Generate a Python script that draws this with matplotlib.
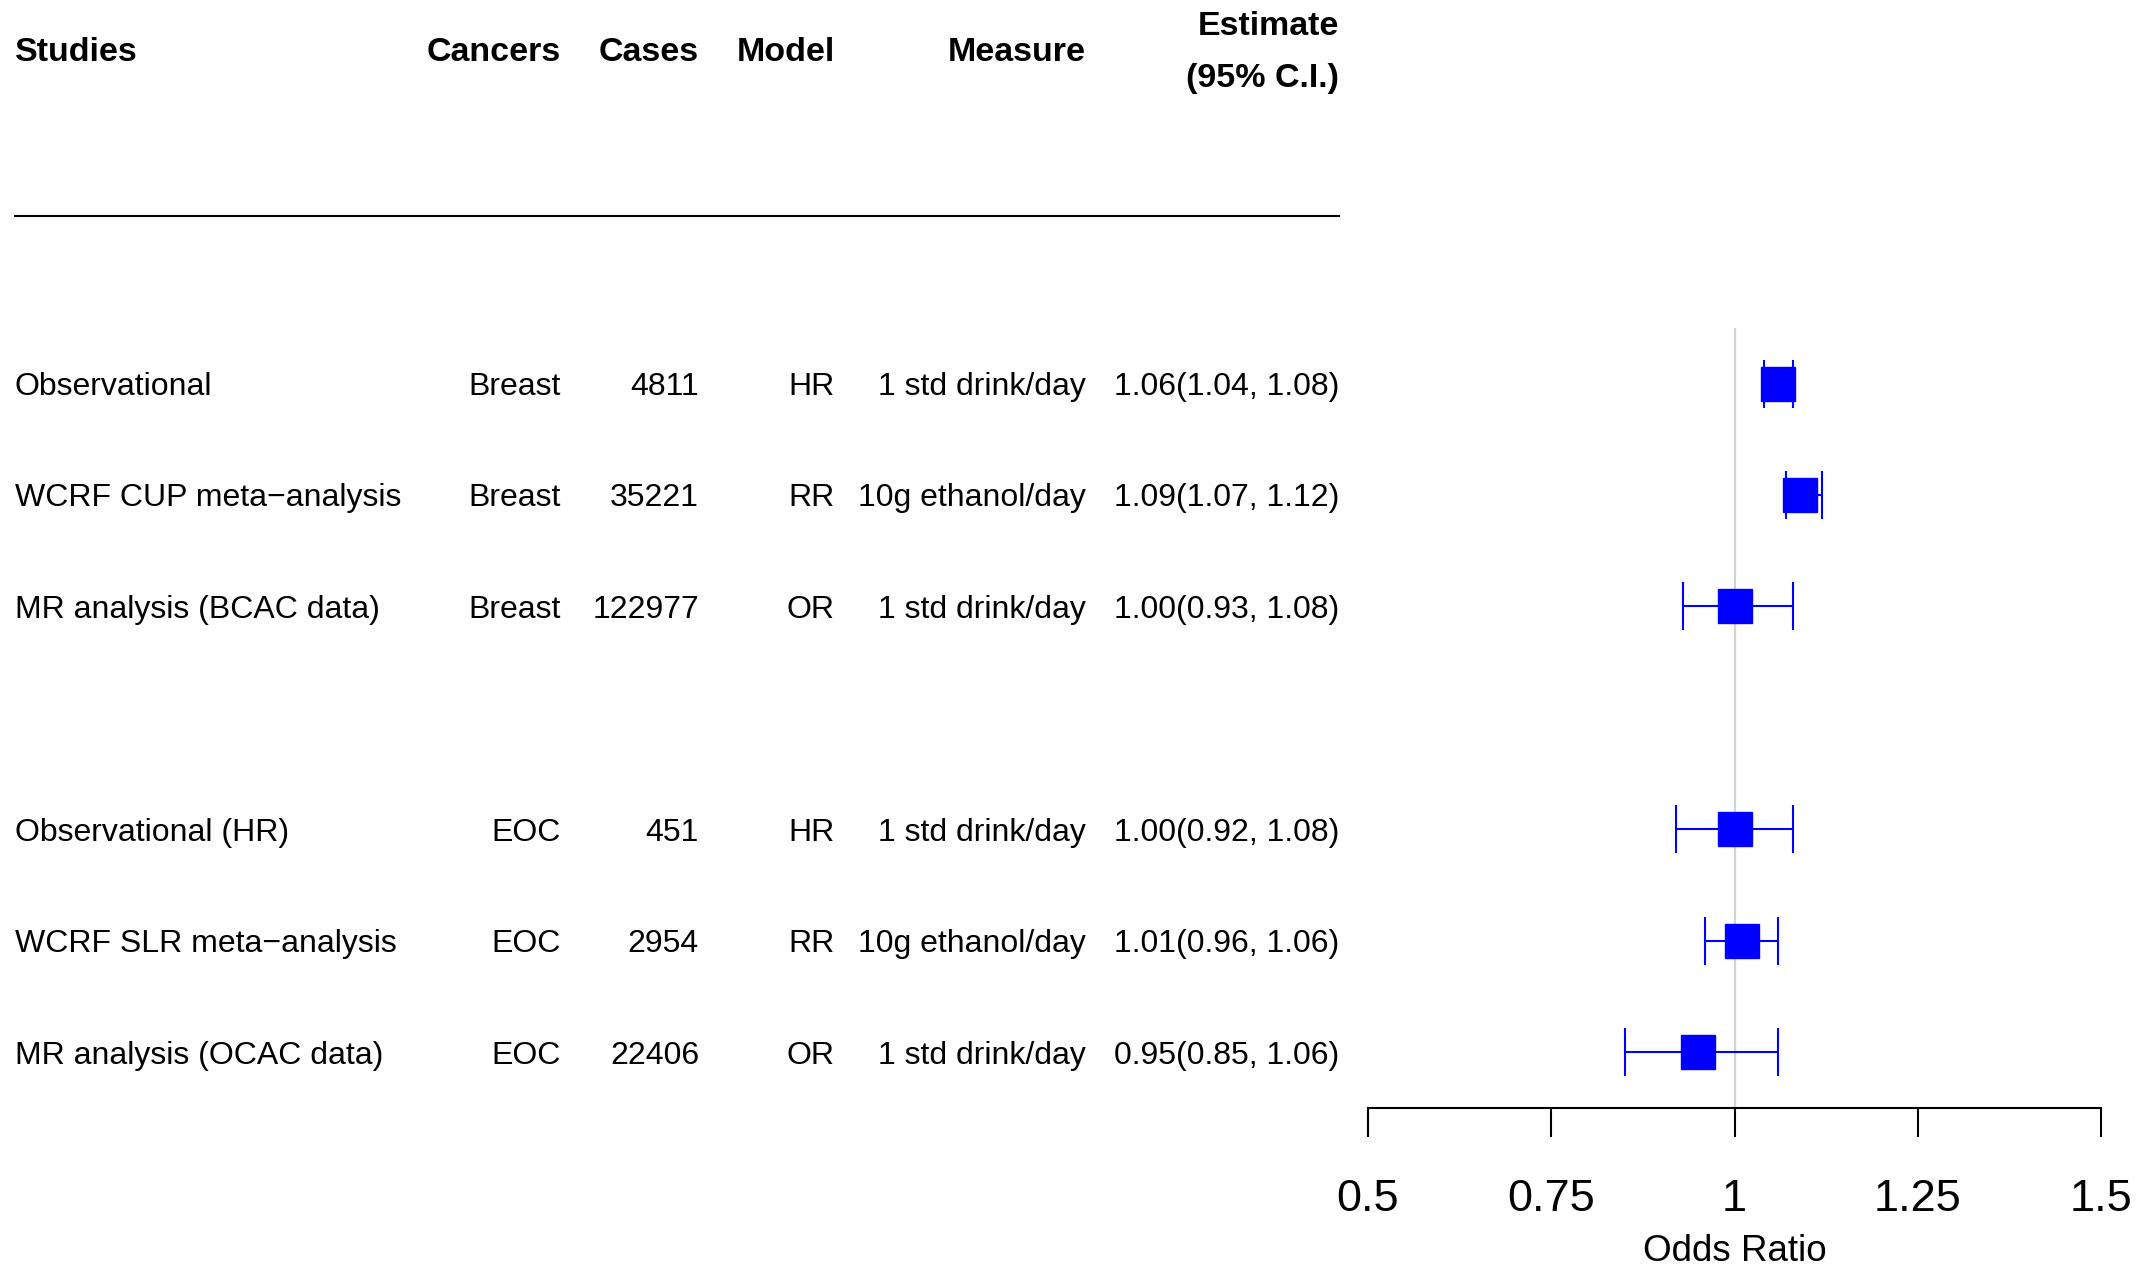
import matplotlib
matplotlib.use("Agg")
import matplotlib.pyplot as plt
import matplotlib.transforms as mtransforms

plt.rcParams['font.family'] = ['Liberation Sans', 'DejaVu Sans']

# table data
studies = ["Observational", "WCRF CUP meta\u2212analysis", "MR analysis (BCAC data)",
           "Observational (HR)", "WCRF SLR meta\u2212analysis", "MR analysis (OCAC data)"]
cancers = ["Breast", "Breast", "Breast", "EOC", "EOC", "EOC"]
cases = ["4811", "35221", "122977", "451", "2954", "22406"]
models = ["HR", "RR", "OR", "HR", "RR", "OR"]
measures = ["1 std drink/day", "10g ethanol/day", "1 std drink/day",
            "1 std drink/day", "10g ethanol/day", "1 std drink/day"]
est = [1.06, 1.09, 1.00, 1.00, 1.01, 0.95]
lo = [1.04, 1.07, 0.93, 0.92, 0.96, 0.85]
hi = [1.08, 1.12, 1.08, 1.08, 1.06, 1.06]
rows = [1, 2, 3, 5, 6, 7]  # row slots, a blank gap between cancers

xticks = [0.5, 0.75, 1, 1.25, 1.5]
xticklabels = ["0.5", "0.75", "1", "1.25", "1.5"]

W, H = 2149, 1266
fig = plt.figure(figsize=(W / 100, H / 100), dpi=100)

# forest panel: bottom spine is the odds ratio axis
ax = fig.add_axes([1368 / W, 1 - 1108 / H, 733 / W, 1108 / H])
ax.set_xlim(0.5, 1.5)
ax.set_ylim(7.5, -2.442)
ax.patch.set_visible(False)
for s in ["top", "right", "left"]:
    ax.spines[s].set_visible(False)
ax.spines["bottom"].set_bounds(0.5, 1.5)
ax.spines["bottom"].set_linewidth(1.5)
ax.set_yticks([])
ax.set_xticks(xticks)
ax.set_xticklabels(xticklabels)
ax.tick_params(axis="x", direction="out", length=21, width=1.5, labelsize=32.5, pad=30)
ax.set_xlabel("Odds Ratio", fontsize=26.5, labelpad=10.5)

ax.vlines(1, 0.5, 7.5, color="#d3d3d3", lw=1.6, zorder=1)

xerr = [[e - l for e, l in zip(est, lo)], [h - e for e, h in zip(est, hi)]]
ax.errorbar(est, rows, xerr=xerr, fmt="none", ecolor="blue", elinewidth=1.5,
            capsize=17, capthick=1.5, zorder=2)
ax.plot(est, rows, "s", color="blue", markersize=25, zorder=3)

# table text: x in figure fraction, y in row units
tr = mtransforms.blended_transform_factory(fig.transFigure, ax.transData)
body = 23
head = 24.5
dy = 0.03  # nudge text down so caps sit centred on the row
cols = [(15, "left", studies), (560.5, "right", cancers), (699, "right", cases),
        (834.6, "right", models), (1085.4, "right", measures)]
for x, ha, vals in cols:
    for r, v in zip(rows, vals):
        ax.text(x / W, r + dy, v, transform=tr, ha=ha, va="center", fontsize=body, clip_on=False)
for r, e, l, h in zip(rows, est, lo, hi):
    ax.text(1339 / W, r + dy, f"{e:.2f}({l:.2f}, {h:.2f})", transform=tr, ha="right",
            va="center", fontsize=body, clip_on=False)

headers = [(15, "left", "Studies"), (560.5, "right", "Cancers"), (699, "right", "Cases"),
           (834.6, "right", "Model"), (1085.4, "right", "Measure")]
for x, ha, t in headers:
    ax.text(x / W, -2.0 + dy, t, transform=tr, ha=ha, va="center", fontsize=head,
            fontweight="bold", clip_on=False)
ax.text(1339 / W, -2.2, "Estimate", transform=tr, ha="right", va="center",
        fontsize=head, fontweight="bold", clip_on=False)
ax.text(1339 / W, -1.735, "(95% C.I.)", transform=tr, ha="right", va="center",
        fontsize=head, fontweight="bold", clip_on=False)

ax.plot([15 / W, 1339 / W], [-0.5, -0.5], transform=tr, color="black", lw=1.5, clip_on=False)

fig.savefig("out.png", dpi=100)
